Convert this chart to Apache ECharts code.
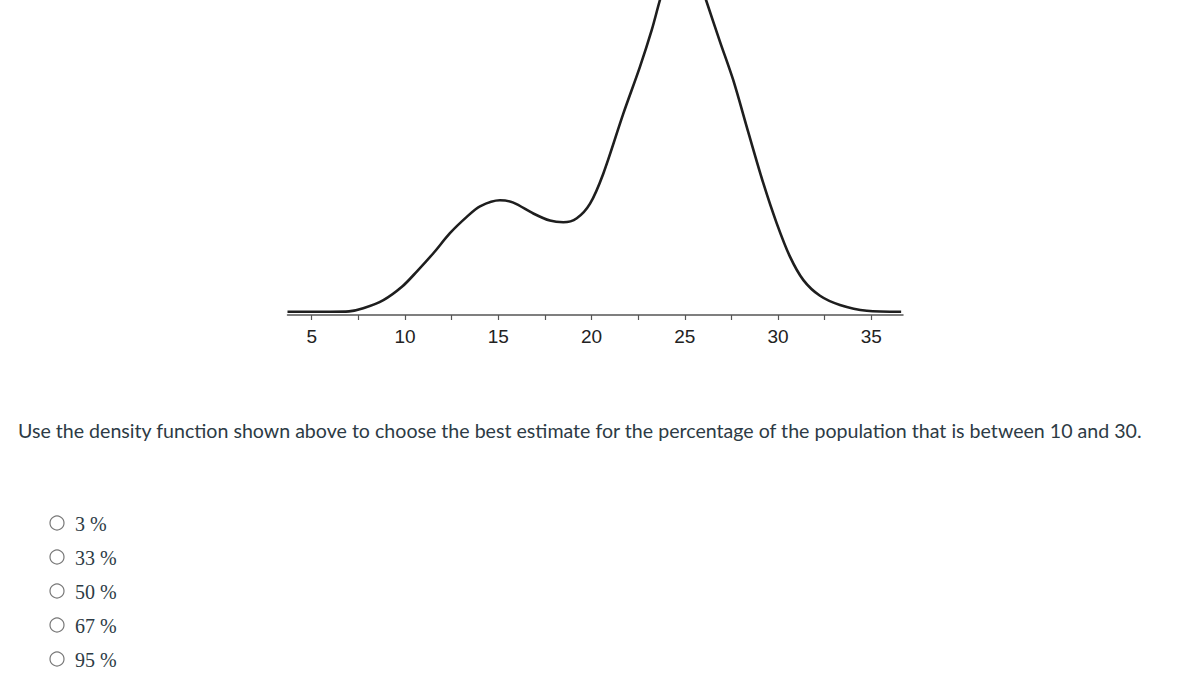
<!DOCTYPE html>
<html>
<head>
<meta charset="utf-8">
<script src="https://cdn.jsdelivr.net/npm/echarts@6/dist/echarts.min.js"></script>
<style>
html,body{margin:0;padding:0;background:#fff;}
#chart{width:1187px;height:697px;}
</style>
</head>
<body>
<div id="chart"></div>
<script>
// x values and density values
const xValues = [3.7, 6.0, 7.0, 7.76, 8.84, 9.85, 10.63, 11.52, 12.41, 13.31, 14.02, 15.09, 15.81, 16.88, 17.77, 18.49, 19.21, 19.92, 20.63, 21.7, 22.6, 23.23, 23.67, 24.3, 24.9, 25.5, 26.14, 26.89, 27.6, 28.4, 29.21, 29.93, 30.64, 31.36, 32.25, 33.32, 34.76, 36.6];
const density = [0, 0, 0.0001, 0.0010, 0.0034, 0.0074, 0.0118, 0.0172, 0.0231, 0.0279, 0.0310, 0.0328, 0.0321, 0.0289, 0.0268, 0.0263, 0.0275, 0.0318, 0.0406, 0.0582, 0.0721, 0.0829, 0.0917, 0.1029, 0.1082, 0.1029, 0.0917, 0.0794, 0.0681, 0.0529, 0.0378, 0.0260, 0.0162, 0.0093, 0.0047, 0.0020, 0.0003, 0];
const tickValues = [5, 7.5, 10, 12.5, 15, 17.5, 20, 22.5, 25, 27.5, 30, 32.5, 35];
const labelValues = [5, 10, 15, 20, 25, 30, 35];
const questionText = 'Use the density function shown above to choose the best estimate for the percentage of the population that is between 10 and 30.';
const choices = ['3 %', '33 %', '50 %', '67 %', '95 %'];

const chart = echarts.init(document.getElementById('chart'), null, {renderer: 'svg'});

const graphics = [{
  type: 'text',
  style: {
    text: questionText,
    x: 18, y: 430,
    font: '19.6px Lato',
    fill: '#2d3b45',
    textVerticalAlign: 'middle'
  }
}];
choices.forEach((c, i) => {
  const cy = 523 + i * 34;
  graphics.push({
    type: 'circle',
    shape: {cx: 57, cy: cy, r: 7},
    style: {fill: '#fff', stroke: '#777', lineWidth: 1.2}
  });
  graphics.push({
    type: 'text',
    style: {
      text: c,
      x: 75, y: cy + 1,
      font: '20px "Liberation Serif", "DejaVu Serif", serif',
      fill: '#2d3b45',
      textVerticalAlign: 'middle'
    }
  });
});

chart.setOption({
  animation: false,
  grid: {left: 287.5, right: 284, top: 0, bottom: 382, containLabel: false},
  xAxis: {
    type: 'value',
    min: 3.7,
    max: 36.7,
    splitLine: {show: false},
    axisLine: {onZero: false, lineStyle: {color: '#555', width: 1.5}},
    axisTick: {show: true, length: 5, customValues: tickValues, lineStyle: {color: '#555', width: 1.2}},
    axisLabel: {
      customValues: labelValues,
      margin: 12,
      color: '#222',
      fontSize: 19,
      fontFamily: '"Liberation Sans", Arial, sans-serif'
    }
  },
  yAxis: {
    type: 'value',
    min: -0.00097,
    max: 0.0917,
    show: false
  },
  series: [{
    type: 'line',
    data: xValues.map((x, i) => [x, density[i]]),
    smooth: 0.3,
    symbol: 'none',
    clip: true,
    lineStyle: {color: '#1e1e1e', width: 2.6}
  }],
  graphic: graphics
});
</script>
</body>
</html>
